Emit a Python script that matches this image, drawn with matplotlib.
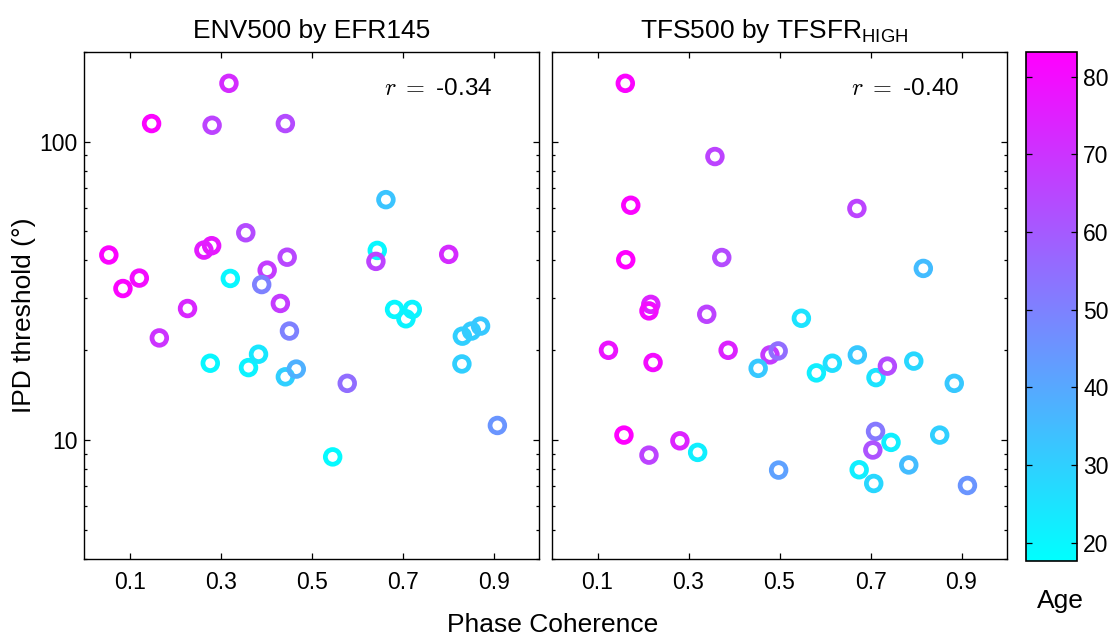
import numpy as np
import matplotlib
matplotlib.use("Agg")
import matplotlib.pyplot as plt
from matplotlib import ticker, colors, cm

plt.rcParams["font.family"] = ["Liberation Sans", "DejaVu Sans"]
plt.rcParams["mathtext.fontset"] = "custom"
plt.rcParams["mathtext.rm"] = "Liberation Sans"
plt.rcParams["mathtext.it"] = "Liberation Sans:italic"

# ENV500 by EFR145 (left panel)
env_coh = [0.318, 0.148, 0.281, 0.442, 0.355, 0.280, 0.263, 0.054, 0.446, 0.402,
           0.121, 0.321, 0.085, 0.390, 0.227, 0.431, 0.165, 0.451, 0.277, 0.361,
           0.383, 0.442, 0.466, 0.663, 0.644, 0.641, 0.801, 0.682, 0.721, 0.707,
           0.831, 0.851, 0.871, 0.830, 0.578, 0.546, 0.908]
env_ipd = [156.7, 114.9, 113.4, 114.9, 49.5, 44.8, 43.3, 41.7, 41.0, 37.1,
           34.9, 34.8, 32.2, 33.2, 27.6, 28.7, 22.0, 23.2, 18.1, 17.5,
           19.4, 16.3, 17.3, 63.9, 43.2, 39.7, 41.9, 27.4, 27.4, 25.5,
           22.3, 23.2, 24.1, 18.0, 15.5, 8.79, 11.2]
env_age = [72, 82, 66, 64, 64, 77, 76, 82, 65, 68,
           80, 20, 82, 50, 73, 68, 70, 50, 20, 21,
           24, 30, 38, 33, 20, 66, 72, 20, 21, 21,
           30, 31, 32, 30, 55, 19, 45]

# TFS500 by TFSFR_HIGH (right panel)
tfs_coh = [0.161, 0.358, 0.173, 0.670, 0.162, 0.373, 0.816, 0.217, 0.213, 0.340,
           0.548, 0.124, 0.222, 0.387, 0.479, 0.497, 0.453, 0.581, 0.616, 0.671,
           0.712, 0.737, 0.795, 0.884, 0.158, 0.213, 0.281, 0.320, 0.498, 0.711,
           0.705, 0.745, 0.852, 0.675, 0.707, 0.784, 0.913]
tfs_ipd = [156.7, 89.1, 61.2, 59.7, 40.2, 40.9, 37.6, 28.5, 27.1, 26.4,
           25.6, 20.0, 18.2, 20.0, 19.3, 19.9, 17.4, 16.8, 18.1, 19.3,
           16.2, 17.7, 18.4, 15.5, 10.4, 8.91, 9.95, 9.10, 7.94, 10.7,
           9.27, 9.83, 10.4, 7.96, 7.16, 8.26, 7.05]
tfs_age = [82, 66, 82, 66, 83, 64, 35, 74, 80, 66,
           25, 78, 80, 74, 68, 55, 32, 22, 26, 32,
           25, 64, 28, 32, 83, 66, 74, 22, 42, 52,
           62, 22, 30, 22, 28, 35, 45]

r_values = ["-0.34", "-0.40"]
age_ticks = [20, 30, 40, 50, 60, 70, 80]
x_ticks = [0.1, 0.3, 0.5, 0.7, 0.9]

norm = colors.Normalize(vmin=17.7, vmax=83.2)
cmap = plt.get_cmap("cool")

fig = plt.figure(figsize=(11.13, 6.35), dpi=100)
ax1 = fig.add_axes([0.0757, 0.1197, 0.4088, 0.7989])
ax2 = fig.add_axes([0.4960, 0.1197, 0.4088, 0.7989])
cax = fig.add_axes([0.9218, 0.1170, 0.0463, 0.8016])

panels = [(ax1, env_coh, env_ipd, env_age), (ax2, tfs_coh, tfs_ipd, tfs_age)]
for i, (ax, xs, ys, ages) in enumerate(panels):
    ax.scatter(xs, ys, s=112, facecolors="none",
               edgecolors=cmap(norm(np.array(ages))), linewidths=3.4)
    ax.set_yscale("log")
    ax.set_xlim(0, 1)
    ax.set_ylim(4, 200)
    ax.set_xticks(x_ticks)
    ax.set_xticklabels([f"{t:.1f}" for t in x_ticks])
    ax.yaxis.set_major_locator(ticker.FixedLocator([10, 100]))
    ax.yaxis.set_major_formatter(ticker.FuncFormatter(lambda v, p: f"{v:g}"))
    ax.yaxis.set_minor_locator(ticker.LogLocator(base=10, subs=np.arange(2, 10)))
    ax.yaxis.set_minor_formatter(ticker.NullFormatter())
    ax.tick_params(which="both", direction="in", top=True, right=True, width=0.9)
    ax.tick_params(which="major", length=4, labelsize=16.5)
    ax.tick_params(which="minor", length=2.4)
    ax.tick_params(axis="x", pad=9)
    ax.tick_params(axis="y", pad=5)
    for sp in ax.spines.values():
        sp.set_linewidth(1.0)
    # correlation label
    ax.text(0.896, 0.915, r"$r$ $=$ " + r_values[i], transform=ax.transAxes,
            ha="right", va="baseline", fontsize=17.5, math_fontfamily="cm")

ax2.tick_params(axis="y", labelleft=False)

# titles and labels
fig.text(0.2803, 0.9402, "ENV500 by EFR145", ha="center", va="baseline", fontsize=19)
fig.text(0.6959, 0.9402, r"TFS500 by TFSFR$_{\mathrm{HIGH}}$", ha="center",
         va="baseline", fontsize=19, math_fontfamily="custom")
fig.text(0.4964, 0.0052, "Phase Coherence", ha="center", va="baseline", fontsize=19)
fig.text(0.0216, 0.503, "IPD threshold (\u00b0)", rotation=90, ha="center",
         va="center", fontsize=19)

# colorbar
sm = cm.ScalarMappable(norm=norm, cmap=cmap)
cb = fig.colorbar(sm, cax=cax, ticks=age_ticks)
cb.ax.tick_params(direction="in", left=True, right=True, length=4, width=0.9,
                  labelsize=16.5, pad=4)
cb.outline.set_linewidth(1.2)
fig.text(0.9525, 0.043, "Age", ha="center", va="baseline", fontsize=19)

fig.savefig("out.png", dpi=100)
